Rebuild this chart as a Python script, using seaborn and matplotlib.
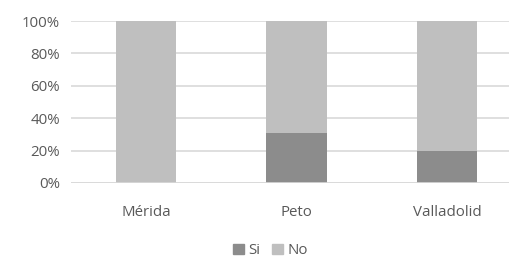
import numpy as np
import pandas as pd
import seaborn as sns
import matplotlib.pyplot as plt
from matplotlib.patches import Patch
from matplotlib.ticker import PercentFormatter

ciudades = ['Mérida', 'Peto', 'Valladolid']
si = [0, 31, 20]
no = [100, 69, 80]

data = pd.DataFrame({'ciudad': ciudades, 'Si': si, 'No': no})
data['total'] = data['Si'] + data['No']

sns.set_style('white')
plt.rcParams['font.family'] = ['Open Sans', 'DejaVu Sans']

fig = plt.figure(figsize=(5.1, 2.57), dpi=100)
ax = fig.add_axes([0.139, 0.288, 0.861, 0.63])

c_si = '#8c8c8c'
c_no = '#bfbfbf'

sns.barplot(data=data, x='ciudad', y='total', color=c_no, width=0.4,
            saturation=1, linewidth=0, ax=ax, zorder=3)
sns.barplot(data=data, x='ciudad', y='Si', color=c_si, width=0.4,
            saturation=1, linewidth=0, ax=ax, zorder=3)

ax.set_ylim(0, 100)
ax.set_xlim(-0.5, 2.42)
ax.set_yticks(np.arange(0, 101, 20))
ax.yaxis.set_major_formatter(PercentFormatter(decimals=0))
ax.yaxis.grid(True, color='#d9d9d9', linewidth=1.2, zorder=0)
ax.set_axisbelow(True)
for s in ax.spines.values():
    s.set_visible(False)
ax.set_xlabel('')
ax.set_ylabel('')
ax.tick_params(axis='both', length=0, labelsize=10.8, colors='#595959')
ax.tick_params(axis='x', pad=16)
ax.tick_params(axis='y', pad=8)
ax.axhline(0, color='#d9d9d9', linewidth=1.2, zorder=4)

handles = [Patch(color=c_si, label='Si'), Patch(color=c_no, label='No')]
fig.legend(handles=handles, loc='center', bbox_to_anchor=(0.53, 0.025),
           ncol=2, frameon=False, fontsize=10.8, handlelength=0.7,
           handleheight=0.7, handletextpad=0.3, columnspacing=0.8,
           labelcolor='#595959')

fig.savefig('out.png', dpi=100)
